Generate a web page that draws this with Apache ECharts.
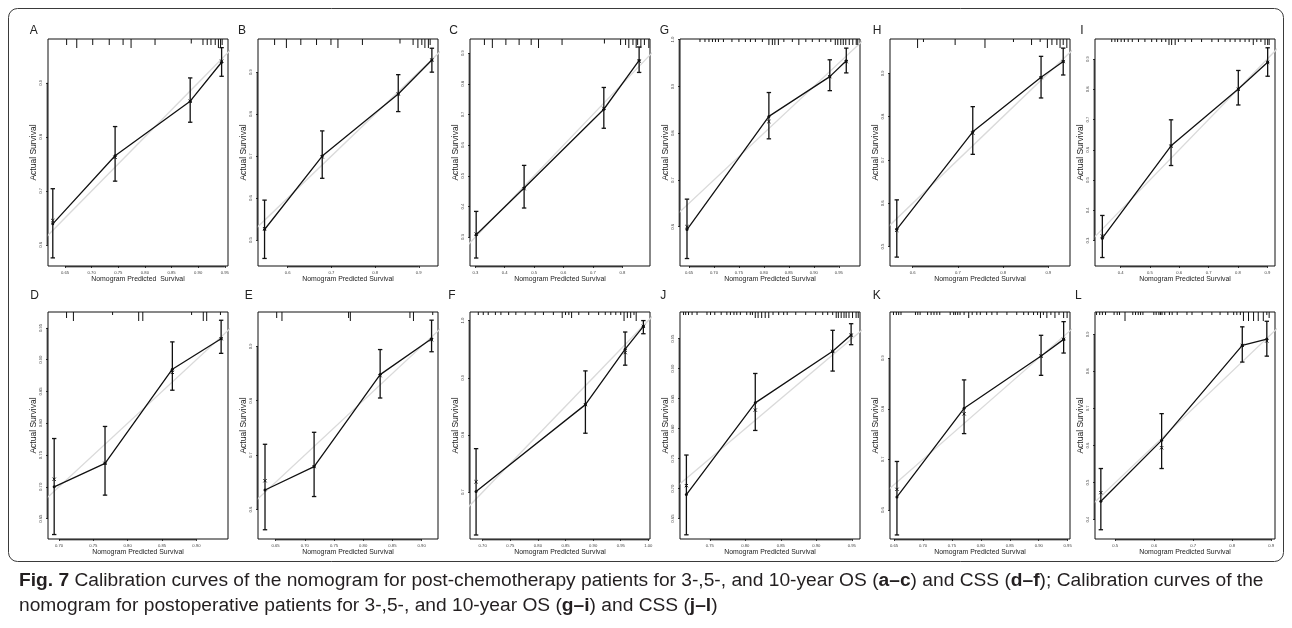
<!DOCTYPE html>
<html><head><meta charset="utf-8">
<script src="https://cdn.jsdelivr.net/npm/echarts@6/dist/echarts.min.js"></script>
<style>html,body{margin:0;padding:0;background:#fff}#c{width:1292px;height:628px}</style>
</head><body><div id="c"></div><script>
// ---------- DATA (panel order: A B C G H I / D E F J K L) ----------
const panelLabels = ['A','B','C','G','H','I','D','E','F','J','K','L'];
const xTitles = ['Nomogram Predicted  Survival','Nomogram Predicted Survival','Nomogram Predicted Survival','Nomogram Predicted Survival','Nomogram Predicted Survival','Nomogram Predicted Survival',
 'Nomogram Predicted Survival','Nomogram Predicted Survival','Nomogram Predicted Survival','Nomogram Predicted Survival','Nomogram Predicted Survival','Nomogram Predicted Survival'];
const yTitle = 'Actual Survival';
const predicted = [
 [0.627,0.744,0.885,0.944],
 [0.547,0.679,0.853,0.930],
 [0.303,0.466,0.737,0.857],
 [0.646,0.810,0.932,0.965],
 [0.565,0.733,0.884,0.933],
 [0.338,0.572,0.801,0.901],
 [0.693,0.767,0.865,0.936],
 [0.632,0.716,0.829,0.917],
 [0.688,0.886,0.958,0.991],
 [0.717,0.814,0.923,0.949],
 [0.655,0.771,0.904,0.943],
 [0.463,0.619,0.826,0.889]
];
const observed = [
 [0.639,0.765,0.866,0.938],
 [0.525,0.700,0.848,0.929],
 [0.308,0.460,0.717,0.876],
 [0.594,0.836,0.921,0.955],
 [0.540,0.765,0.891,0.927],
 [0.308,0.613,0.801,0.889],
 [0.700,0.737,0.885,0.933],
 [0.636,0.679,0.848,0.914],
 [0.701,0.853,0.950,0.990],
 [0.690,0.843,0.929,0.956],
 [0.626,0.801,0.904,0.937],
 [0.450,0.614,0.870,0.887]
];
const ciLower = [
 [0.576,0.718,0.827,0.912],
 [0.456,0.647,0.806,0.900],
 [0.232,0.395,0.655,0.837],
 [0.532,0.788,0.891,0.929],
 [0.476,0.713,0.843,0.896],
 [0.244,0.548,0.748,0.843],
 [0.625,0.687,0.852,0.910],
 [0.563,0.624,0.805,0.890],
 [0.625,0.803,0.922,0.977],
 [0.623,0.797,0.896,0.940],
 [0.551,0.751,0.866,0.910],
 [0.373,0.538,0.825,0.841]
];
const ciUpper = [
 [0.704,0.819,0.909,0.965],
 [0.595,0.760,0.894,0.957],
 [0.384,0.534,0.788,0.920],
 [0.659,0.887,0.957,0.982],
 [0.608,0.823,0.939,0.958],
 [0.383,0.699,0.862,0.937],
 [0.776,0.795,0.928,0.962],
 [0.720,0.742,0.894,0.948],
 [0.776,0.912,0.980,1.000],
 [0.756,0.892,0.964,0.975],
 [0.696,0.857,0.945,0.972],
 [0.538,0.686,0.920,0.935]
];
const corrected = [
 [0.645,0.762,0.866,0.940],
 [0.527,0.698,0.848,0.929],
 [0.310,0.458,0.720,0.874],
 [0.600,0.825,0.921,0.953],
 [0.538,0.762,0.890,0.927],
 [0.315,0.612,0.800,0.889],
 [0.712,0.737,0.880,0.933],
 [0.653,0.679,0.846,0.912],
 [0.718,0.853,0.944,0.990],
 [0.705,0.831,0.929,0.956],
 [0.641,0.790,0.904,0.937],
 [0.473,0.594,0.870,0.882]
];
const xLimits = [
 [0.618,0.956],[0.532,0.944],[0.282,0.894],[0.632,0.9925],[0.550,0.948],[0.313,0.926],
 [0.684,0.946],[0.620,0.928],[0.677,1.003],[0.708,0.9615],[0.643,0.954],[0.448,0.910]
];
const yLimits = [
 [0.561,0.981],[0.438,0.979],[0.206,0.946],[0.516,1.0015],[0.4555,0.979],[0.216,0.966],
 [0.618,0.975],[0.546,0.963],[0.618,1.015],[0.616,0.9945],[0.543,0.991],[0.348,0.960]
];
const xTickValues = [
 [0.65,0.70,0.75,0.80,0.85,0.90,0.95],
 [0.6,0.7,0.8,0.9],
 [0.3,0.4,0.5,0.6,0.7,0.8],
 [0.65,0.70,0.75,0.80,0.85,0.90,0.95],
 [0.6,0.7,0.8,0.9],
 [0.4,0.5,0.6,0.7,0.8,0.9],
 [0.70,0.75,0.80,0.85,0.90],
 [0.65,0.70,0.75,0.80,0.85,0.90],
 [0.70,0.75,0.80,0.85,0.90,0.95,1.00],
 [0.75,0.80,0.85,0.90,0.95],
 [0.65,0.70,0.75,0.80,0.85,0.90,0.95],
 [0.5,0.6,0.7,0.8,0.9]
];
const yTickValues = [
 [0.6,0.7,0.8,0.9],
 [0.5,0.6,0.7,0.8,0.9],
 [0.3,0.4,0.5,0.6,0.7,0.8,0.9],
 [0.6,0.7,0.8,0.9,1.0],
 [0.5,0.6,0.7,0.8,0.9],
 [0.3,0.4,0.5,0.6,0.7,0.8,0.9],
 [0.65,0.70,0.75,0.80,0.85,0.90,0.95],
 [0.6,0.7,0.8,0.9],
 [0.7,0.8,0.9,1.0],
 [0.65,0.70,0.75,0.80,0.85,0.90,0.95],
 [0.6,0.7,0.8,0.9],
 [0.4,0.5,0.6,0.7,0.8,0.9]
];
const rugValues = [
 [0.653,0.672,0.702,0.733,0.759,0.774,0.819,0.887,0.909,0.917,0.924,0.932,0.938,0.942,0.945],
 [0.570,0.597,0.630,0.666,0.699,0.715,0.771,0.857,0.887,0.898,0.907,0.914,0.922,0.926],
 [0.331,0.358,0.404,0.449,0.490,0.515,0.595,0.739,0.794,0.811,0.822,0.836,0.847,0.852,0.863,0.875,0.890],
 [0.672,0.682,0.690,0.697,0.703,0.709,0.719,0.736,0.750,0.763,0.773,0.783,0.797,0.810,0.817,0.822,0.829,0.840,0.857,0.870,0.884,0.897,0.911,0.924,0.934,0.943,0.948,0.954,0.959,0.964,0.971,0.978,0.985,0.988],
 [0.611,0.624,0.694,0.760,0.823,0.863,0.882,0.898,0.908,0.919,0.926,0.933,0.941],
 [0.370,0.381,0.390,0.402,0.413,0.426,0.440,0.461,0.483,0.506,0.523,0.540,0.554,0.565,0.574,0.586,0.597,0.620,0.642,0.676,0.711,0.733,0.756,0.773,0.790,0.807,0.824,0.838,0.852,0.864,0.878,0.892,0.901,0.906],
 [0.711,0.721,0.778,0.816,0.822,0.893,0.910,0.915,0.935],
 [0.652,0.661,0.775,0.778,0.880,0.886,0.919],
 [0.692,0.701,0.710,0.723,0.733,0.747,0.760,0.777,0.795,0.810,0.828,0.844,0.850,0.856,0.861,0.874,0.892,0.910,0.922,0.932,0.941,0.950,0.956,0.962,0.968,0.974,0.978],
 [0.713,0.716,0.720,0.725,0.732,0.746,0.751,0.757,0.766,0.774,0.779,0.784,0.788,0.793,0.802,0.807,0.810,0.814,0.818,0.823,0.828,0.833,0.839,0.847,0.854,0.859,0.871,0.885,0.899,0.909,0.916,0.923,0.928,0.931,0.935,0.939,0.942,0.946,0.951,0.956,0.959],
 [0.649,0.654,0.658,0.662,0.687,0.691,0.695,0.708,0.714,0.719,0.724,0.729,0.747,0.753,0.756,0.760,0.764,0.771,0.779,0.785,0.793,0.799,0.810,0.819,0.828,0.845,0.862,0.874,0.882,0.891,0.898,0.903,0.908,0.914,0.921,0.928,0.935,0.943,0.949],
 [0.452,0.460,0.467,0.475,0.497,0.505,0.511,0.525,0.545,0.552,0.559,0.565,0.571,0.599,0.605,0.612,0.616,0.620,0.627,0.639,0.646,0.659,0.684,0.697,0.723,0.748,0.769,0.789,0.804,0.812,0.821,0.829,0.842,0.855,0.867,0.880,0.889,0.895]
];
const rugFreq = [
 [2,3,2,2,2,3,2,1.5,2,2,2,2,3,3,2],
 [2,3,2,2,2,3,2,1.5,2,3,2,3,3,2],
 [2,3,2,2,2,3,2,1.5,2,2,3,2,3,2,3,2,3],
 [1,1,1,1,1,1,1,1,1,1,1,1,1,2,2,2,2,1,1,2,1,1,1,1,1,2,2,2,2,2,2,2,2,2],
 [3,1,2,3,1,2,1,3,2,2,3,2,3],
 [1,1,1,1,1,1,1,1,1,1,1,1,1,2,2,2,1,1,1,1,1,1,1,1,1,1,1,1,2,1,1,2,2,2],
 [2,3,1,3,3,1,3,3,1],
 [2,3,2,3,2,3,1],
 [1,1,1,1,1,1,1,1,1,1,1,2,1,1,2,1,1,1,1,1,1,1,3,2,2,1,3],
 [1,1,1,1,1,1,1,1,1,1,1,1,1,1,1,1,1,2,2,2,2,2,1,1,1,1,1,1,1,1,1,1,2,2,2,2,2,2,2,2,2],
 [1,1,1,1,1,1,1,1,1,1,1,1,1,1,1,1,1,1,2,1,1,1,1,1,1,1,1,1,1,1,1,2,1,2,1,2,1,2,2],
 [1,1,1,1,1,1,1,3,1,1,1,1,1,1,1,1,1,1,1,1,1,1,1,1,1,1,1,1,1,1,1,3,3,3,3,3,1,2]
];

// ---------- LAYOUT ----------
const colLeft = [48, 258, 470, 680, 890, 1095];
const rowTop = [39, 312];
const plotW = 180, plotH = 227;
const letterX = [33.7, 242, 453.5, 664.5, 877, 1082, 34.5, 248.7, 452, 663.3, 876.7, 1078.3];
const letterY = [30.5, 296];
const FONT = 'Liberation Sans, Arial, Helvetica, sans-serif';

const chart = echarts.init(document.getElementById('c'));
const grids = [], xAxes = [], yAxes = [], series = [], graphics = [];
const decs = arr => arr.some(v => Math.abs(v * 10 - Math.round(v * 10)) > 1e-6) ? 2 : 1;
const BLK = '#111';

panelLabels.forEach((lab, i) => {
  const r = Math.floor(i / 6), c = i % 6;
  const left = colLeft[c], top = rowTop[r];
  grids.push({left, top, width: plotW, height: plotH, show: true, borderColor: BLK, borderWidth: 1, backgroundColor: 'rgba(0,0,0,0)'});
  const xd = decs(xTickValues[i]), yd = decs(yTickValues[i]);
  const xT = xTickValues[i], yT = yTickValues[i];
  const x0 = xLimits[i][0], y0 = yLimits[i][0], yTop = yLimits[i][1];
  xAxes.push({
    type: 'value', gridIndex: i, min: xLimits[i][0], max: xLimits[i][1],
    name: xTitles[i], nameLocation: 'middle', nameGap: 10,
    nameTextStyle: {fontSize: 6.9, color: '#222', fontFamily: FONT},
    axisLine: {show: false}, splitLine: {show: false},
    axisTick: {show: true, customValues: xT, length: 2, lineStyle: {color: BLK, width: 0.8}},
    axisLabel: {customValues: xT, formatter: v => (+v).toFixed(xd), fontSize: 4.2, margin: 5, color: '#444', fontFamily: FONT}
  });
  yAxes.push({
    type: 'value', gridIndex: i, min: yLimits[i][0], max: yLimits[i][1],
    name: yTitle, nameLocation: 'middle', nameGap: 10,
    nameTextStyle: {fontSize: 8.5, color: '#222', fontFamily: FONT},
    axisLine: {show: false}, splitLine: {show: false},
    axisTick: {show: true, customValues: yT, length: 2, lineStyle: {color: BLK, width: 0.8}},
    axisLabel: {customValues: yT, formatter: v => (+v).toFixed(yd), fontSize: 4.2, margin: 5, rotate: 90, color: '#444', fontFamily: FONT}
  });
  // R-style axis lines spanning first..last tick (overlapping the box)
  series.push({type: 'custom', xAxisIndex: i, yAxisIndex: i, clip: false, silent: true, z: 3, animation: false,
    data: [[0]],
    renderItem: (p, api) => {
      const a = api.coord([x0, yT[0]]), b = api.coord([x0, yT[yT.length - 1]]);
      const cx = api.coord([xT[0], y0]), dx = api.coord([xT[xT.length - 1], y0]);
      const st = {stroke: BLK, lineWidth: 1};
      return {type: 'group', children: [
        {type: 'line', shape: {x1: a[0] - 0.8, y1: a[1], x2: b[0] - 0.8, y2: b[1]}, style: st},
        {type: 'line', shape: {x1: cx[0], y1: cx[1] + 0.8, x2: dx[0], y2: dx[1] + 0.8}, style: st}
      ]};
    }});
  // ideal line y = x
  series.push({type: 'line', xAxisIndex: i, yAxisIndex: i, data: [[0, 0], [1.2, 1.2]], clip: true, symbol: 'none',
    lineStyle: {color: '#dadada', width: 1.3}, silent: true, z: 2, animation: false});
  // observed calibration line
  series.push({type: 'line', xAxisIndex: i, yAxisIndex: i, data: predicted[i].map((x, k) => [x, observed[i][k]]),
    clip: true, symbol: 'circle', symbolSize: 3, itemStyle: {color: BLK},
    lineStyle: {color: BLK, width: 1.3}, silent: true, z: 4, animation: false});
  // error bars
  series.push({type: 'custom', xAxisIndex: i, yAxisIndex: i, clip: true, silent: true, z: 5, animation: false,
    data: predicted[i].map((x, k) => [x, ciLower[i][k], ciUpper[i][k]]),
    renderItem: (p, api) => {
      const lo = api.coord([api.value(0), api.value(1)]);
      const hi = api.coord([api.value(0), api.value(2)]);
      const st = {stroke: BLK, lineWidth: 1.3};
      const cw = 2.2;
      return {type: 'group', children: [
        {type: 'line', shape: {x1: lo[0], y1: lo[1], x2: hi[0], y2: hi[1]}, style: st},
        {type: 'line', shape: {x1: lo[0] - cw, y1: lo[1], x2: lo[0] + cw, y2: lo[1]}, style: st},
        {type: 'line', shape: {x1: hi[0] - cw, y1: hi[1], x2: hi[0] + cw, y2: hi[1]}, style: st}
      ]};
    }});
  // bias-corrected estimates (x marks)
  series.push({type: 'custom', xAxisIndex: i, yAxisIndex: i, clip: true, silent: true, z: 6, animation: false,
    data: predicted[i].map((x, k) => [x, corrected[i][k]]),
    renderItem: (p, api) => {
      const q = api.coord([api.value(0), api.value(1)]);
      const s = 1.6, st = {stroke: BLK, lineWidth: 1};
      return {type: 'group', children: [
        {type: 'line', shape: {x1: q[0] - s, y1: q[1] - s, x2: q[0] + s, y2: q[1] + s}, style: st},
        {type: 'line', shape: {x1: q[0] - s, y1: q[1] + s, x2: q[0] + s, y2: q[1] - s}, style: st}
      ]};
    }});
  // rug of predicted risk distribution at top
  series.push({type: 'custom', xAxisIndex: i, yAxisIndex: i, clip: false, silent: true, z: 3, animation: false,
    data: rugValues[i].map((x, k) => [x, rugFreq[i][k]]),
    renderItem: (p, api) => {
      const q = api.coord([api.value(0), yTop]);
      const len = api.value(1) * 3;
      return {type: 'line', shape: {x1: q[0], y1: q[1], x2: q[0], y2: q[1] + len}, style: {stroke: BLK, lineWidth: 1}};
    }});
  graphics.push({type: 'text', x: letterX[i], y: letterY[r],
    style: {text: lab, font: '12px ' + FONT, fill: '#222', align: 'center', verticalAlign: 'middle'}});
});

// outer frame and caption
graphics.push({type: 'rect', shape: {x: 8.5, y: 8.5, width: 1275, height: 553, r: 9},
  style: {fill: 'none', stroke: '#3a3a3a', lineWidth: 1}, z: -1});
graphics.push({type: 'text', left: 19, top: 568, style: {
  text: '{b|Fig. 7} Calibration curves of the nomogram for post-chemotherapy patients for 3-,5-, and 10-year OS ({b|a–c}) and CSS ({b|d–f}); Calibration curves of the\nnomogram for postoperative patients for 3-,5-, and 10-year OS ({b|g–i}) and CSS ({b|j–l})',
  font: '19.2px ' + FONT, fill: '#231f20', lineHeight: 25,
  rich: {b: {fontWeight: 'bold', fontSize: 19.2, fontFamily: FONT, fill: '#231f20', lineHeight: 25}}
}});

chart.setOption({animation: false, grid: grids, xAxis: xAxes, yAxis: yAxes, series, graphic: graphics});
</script></body></html>
